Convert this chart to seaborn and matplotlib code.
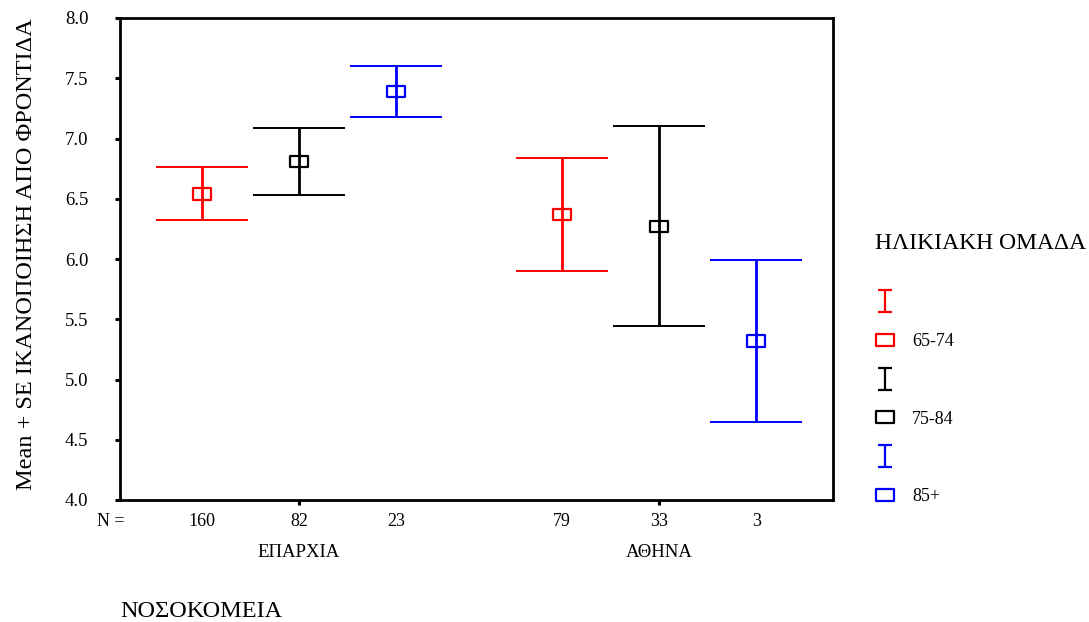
import numpy as np
import pandas as pd
import matplotlib
matplotlib.use("Agg")
import matplotlib.pyplot as plt
from matplotlib.path import Path
from matplotlib.lines import Line2D
import seaborn as sns

# Hospital regions, age groups and per-cell summary statistics
regions = ["ΕΠΑΡΧΙΑ", "ΑΘΗΝΑ"]
age_groups = ["65-74", "75-84", "85+"]
colors = ["#ff0000", "#000000", "#0000ff"]

means_eparxia = [6.54, 6.81, 7.39]
means_athina = [6.37, 6.27, 5.32]
err_eparxia = [0.22, 0.28, 0.21]
err_athina = [0.47, 0.83, 0.67]
n_eparxia = [160, 82, 23]
n_athina = [79, 33, 3]

sns.set_theme(style="white")
plt.rcParams["font.family"] = ["Liberation Serif", "DejaVu Serif"]
plt.rcParams.update({"text.color": "black", "axes.labelcolor": "black",
                     "xtick.color": "black", "ytick.color": "black"})

rows = []
for r_i, (region, means, errs, ns) in enumerate(
        [(regions[0], means_eparxia, err_eparxia, n_eparxia),
         (regions[1], means_athina, err_athina, n_athina)]):
    for g_i, group in enumerate(age_groups):
        rows.append(dict(region=region, region_idx=r_i, group=group, g_idx=g_i,
                         mean=means[g_i], err=errs[g_i], n=ns[g_i]))
df = pd.DataFrame(rows)
offset = 0.27
df["x"] = df["region_idx"] + (df["g_idx"] - 1) * offset

fig = plt.figure(figsize=(10.89, 6.22), dpi=100)
ax = fig.add_axes([120 / 1089, 1 - 500 / 622, 713 / 1089, 482 / 622])

# hollow rectangle marker and I-beam glyph for the legend
rect = Path([(-1, -0.62), (1, -0.62), (1, 0.62), (-1, 0.62), (-1, -0.62)],
            [Path.MOVETO, Path.LINETO, Path.LINETO, Path.LINETO, Path.CLOSEPOLY])
ibeam = Path([(-0.68, -1), (0.68, -1), (0, -1), (0, 1), (-0.68, 1), (0.68, 1)],
             [Path.MOVETO, Path.LINETO, Path.MOVETO, Path.LINETO, Path.MOVETO, Path.LINETO])

for g_i, group in enumerate(age_groups):
    sub = df[df["group"] == group]
    ax.errorbar(sub["x"], sub["mean"], yerr=sub["err"], fmt="none",
                ecolor=colors[g_i], elinewidth=2.0, capsize=33, capthick=1.4, zorder=2)

sns.scatterplot(data=df, x="x", y="mean", hue="group", palette=colors,
                marker=rect, s=170, linewidth=1.6, legend=False, ax=ax, zorder=3)
pts = ax.collections[-1]
pts.set_edgecolors(pts.get_facecolors())
pts.set_facecolors("none")

ax.set_xlim(-0.497, 1.483)
ax.set_ylim(4.0, 8.0)
yt = np.arange(4.0, 8.01, 0.5)
ax.set_yticks(yt)
ax.set_yticklabels([f"{v:.1f}" for v in yt], fontsize=13.5)
ax.set_xticks([0, 1])
ax.set_xticklabels(regions, fontsize=13.5)
ax.tick_params(axis="both", direction="out", length=3.6, width=2.2, color="black",
               bottom=True, left=True)
ax.tick_params(axis="x", pad=28)
ax.tick_params(axis="y", pad=19)

for sp in ax.spines.values():
    sp.set_color("black")
    sp.set_linewidth(2)

ax.set_ylabel("Mean + SE ΙΚΑΝΟΠΟΙΗΣΗ ΑΠΟ ΦΡΟΝΤΙΔΑ", fontsize=17.5, labelpad=20)
ax.yaxis.label.set_y(0.51)
ax.set_xlabel("ΝΟΣΟΚΟΜΕΙΑ", fontsize=17.5, loc="left", labelpad=29)

# sample sizes under each error bar
trans = ax.get_xaxis_transform()
ax.text(-0.561, -0.044, "N =", transform=trans, ha="left", va="center", fontsize=13)
for _, row in df.iterrows():
    ax.text(row["x"], -0.044, f"{row['n']}", transform=trans,
            ha="center", va="center", fontsize=13)

handles, labels = [], []
for g_i, group in enumerate(age_groups):
    handles.append(Line2D([], [], linestyle="none", marker=ibeam, markersize=15.5,
                          markeredgecolor=colors[g_i], markeredgewidth=1.6))
    labels.append(" ")
    handles.append(Line2D([], [], linestyle="none", marker=rect, markersize=13,
                          markerfacecolor="none", markeredgecolor=colors[g_i],
                          markeredgewidth=1.6))
    labels.append(group)

leg = fig.legend(handles, labels, title="ΗΛΙΚΙΑΚΗ ΟΜΑΔΑ", loc="upper left",
                 bbox_to_anchor=(859 / 1089, 1 - 217 / 622), frameon=False,
                 fontsize=13, title_fontsize=17, labelspacing=1.2,
                 handlelength=1.1, handletextpad=0.95, alignment="left")
leg._legend_box.sep = 29

fig.savefig("out.png", dpi=100, facecolor="white")
